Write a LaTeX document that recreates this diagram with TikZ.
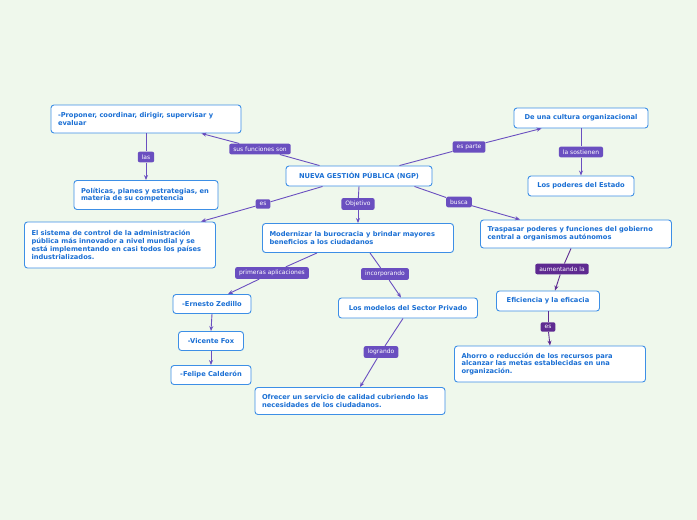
\documentclass[tikz,border=0pt]{standalone}
\usepackage{fontspec}
\setmainfont{DejaVu Sans}
\hyphenpenalty=10000
\exhyphenpenalty=10000
\usetikzlibrary{arrows.meta,calc}
\definecolor{bg}{HTML}{EFF8EC}
\definecolor{bl}{HTML}{1A6FD4}
\definecolor{bd}{HTML}{3D8FE6}
\definecolor{pu}{HTML}{6A4FC0}
\definecolor{dp}{HTML}{5E2A91}
\tikzset{
 box/.style={draw=bd,line width=0.9pt,fill=white,rounded corners=3pt,text=bl,font=\fontsize{6.7}{7.8}\selectfont\bfseries,align=flush left,inner xsep=7pt,inner ysep=3pt},
 lbl/.style={fill=pu,rounded corners=2pt,text=white,font=\fontsize{6}{7}\selectfont,inner xsep=4pt,inner ysep=3pt},
 dlbl/.style={lbl,fill=dp},
 ln/.style={draw=pu,line width=0.9pt},
 ar/.style={ln,-{Stealth[length=5pt,width=4pt]}},
 dar/.style={ar,draw=dp}
}
\begin{document}
\begin{tikzpicture}[x=1pt,y=-1pt]
\fill[bg] (0,0) rectangle (697,520);
\useasboundingbox (0,0) rectangle (697,520);
\node[box,text width=132pt,align=center,minimum height=20pt] (main) at (359,176) {NUEVA GESTIÓN PÚBLICA (NGP)};
\node[box,text width=176pt,minimum height=28pt] (A) at (146,119) {-Proponer, coordinar, dirigir, supervisar y evaluar};
\node[box,text width=130pt,minimum height=29pt] (B) at (146,195) {Políticas, planes y estrategias, en materia de su competencia};
\node[box,text width=177pt,minimum height=46pt] (C) at (120,245) {El sistema de control de la administración pública más innovador a nivel mundial y se está implementando en casi todos los países industrializados.};
\node[box,text width=177pt,minimum height=29pt] (D) at (358,238) {Modernizar la burocracia y brindar mayores beneficios a los ciudadanos};
\node[box,text width=177pt,minimum height=28pt] (E) at (576,234) {Traspasar poderes y funciones del gobierno central a organismos autónomos};
\node[box,text width=120pt,minimum height=20pt,align=center] (F) at (581,118) {De una cultura organizacional};
\node[box,text width=92pt,minimum height=20pt,align=center] (G) at (581,186) {Los poderes del Estado};
\node[box,text width=64pt,minimum height=19pt,align=center] (H) at (212,304) {-Ernesto Zedillo};
\node[box,text width=51pt,minimum height=19pt,align=center] (I) at (211,341) {-Vicente Fox};
\node[box,text width=66pt,minimum height=19pt,align=center] (J) at (211,375) {-Felipe Calderón};
\node[box,text width=125pt,minimum height=20pt,align=center] (K) at (408,308) {Los modelos del Sector Privado};
\node[box,text width=176pt,minimum height=27pt] (L) at (350,401) {Ofrecer un servicio de calidad cubriendo las necesidades de los ciudadanos.};
\node[box,text width=89pt,minimum height=20pt,align=center] (M) at (548,301) {Eficiencia y la eficacia};
\node[box,text width=177pt,minimum height=36pt] (N) at (550,364) {Ahorro o reducción de los recursos para\\alcanzar las metas establecidas en una organización.};
% labels
\node[lbl] (l1) at (260,149) {sus funciones son};
\node[lbl] (l2) at (146,157) {las};
\node[lbl] (l3) at (263,204) {es};
\node[lbl] (l4) at (358,204) {Objetivo};
\node[lbl] (l5) at (459,202) {busca};
\node[lbl] (l6) at (469,147) {es parte};
\node[lbl] (l7) at (581,152) {la sostienen};
\node[lbl] (l8) at (272,273) {primeras aplicaciones};
\node[lbl] (l9) at (385,274) {incorporando};
\node[lbl] (l10) at (381,352) {logrando};
\node[dlbl] (l11) at (562,269) {aumentando la};
\node[dlbl] (l12) at (548,327) {es};
% connectors
\coordinate (m1) at ($(main.north west)+(34,0)$);
\draw[ln] (m1) -- (l1); \draw[ar] (l1) -- ($(A.south east)+(-40,0)$);
\draw[ln] (A.south) -- (l2); \draw[ar] (l2) -- (B.north);
\coordinate (m2) at ($(main.south west)+(37,0)$);
\draw[ln] (m2) -- (l3); \draw[ar] (l3) -- ($(C.north east)+(-15,0)$);
\draw[ln] (main.south) -- (l4); \draw[ar] (l4) -- (D.north);
\coordinate (m3) at ($(main.south east)+(-18,0)$);
\draw[ln] (m3) -- (l5); \draw[ar] (l5) -- ($(E.north west)+(40,0)$);
\coordinate (m4) at ($(main.north east)+(-33,0)$);
\draw[ln] (m4) -- (l6); \draw[ar] (l6) -- ($(F.south west)+(28,0)$);
\draw[ln] (F.south) -- (l7); \draw[ar] (l7) -- (G.north);
\draw[ln] ($(D.south)+(-41,0)$) -- (l8); \draw[ar] (l8) -- ($(H.north)+(16,0)$);
\draw[ln] ($(D.south)+(12,0)$) -- (l9); \draw[ar] (l9) -- ($(K.north)+(-7,0)$);
\draw[ar] (H.south) -- (I.north);
\draw[ar] (I.south) -- (J.north);
\draw[ln] ($(K.south)+(-5,0)$) -- (l10); \draw[ar] (l10) -- ($(L.north)+(10,0)$);
\draw[ln,draw=dp] ($(E.south)+(-5,0)$) -- (l11); \draw[dar] (l11) -- ($(M.north)+(7,0)$);
\draw[ln,draw=dp] (M.south) -- (l12); \draw[dar] (l12) -- ($(N.north)+(0,0)$);
\end{tikzpicture}
\end{document}
